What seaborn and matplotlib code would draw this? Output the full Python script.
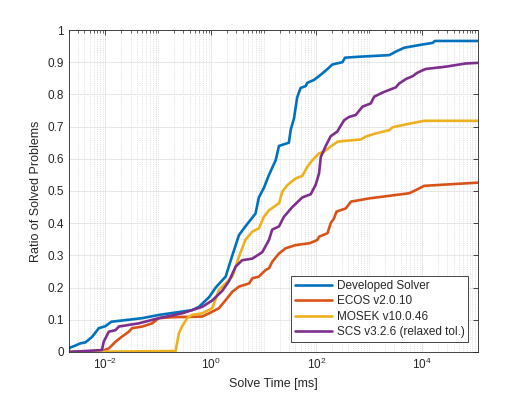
import numpy as np
import pandas as pd
import seaborn as sns
import matplotlib.pyplot as plt
from matplotlib.ticker import LogLocator, LogFormatterMathtext, NullFormatter

# solve times [ms] and ratio of solved problems
dev_x = [2.0e-3, 2.1e-3, 2.7e-3, 3.4e-3, 4.2e-3, 5.6e-3, 7.5e-3, 0.01, 0.013, 0.05, 0.103, 0.44, 0.59,
         0.92, 1.23, 1.9, 2.5, 3.4, 4.5, 7.0, 8.1, 10.1, 12.6, 16.9, 19.5, 30, 32.5, 37.6, 43, 50,
         62.6, 67, 90, 129, 162, 200, 310, 348, 645, 2400, 3200, 4600, 10200, 15900, 17600, 1.15e5]
dev_y = [0.005, 0.013, 0.02, 0.027, 0.03, 0.047, 0.074, 0.08, 0.094, 0.105, 0.115, 0.13, 0.14,
         0.17, 0.2, 0.234, 0.296, 0.363, 0.39, 0.43, 0.48, 0.51, 0.55, 0.596, 0.64, 0.65, 0.69, 0.726, 0.79, 0.82,
         0.826, 0.836, 0.845, 0.865, 0.879, 0.893, 0.90, 0.914, 0.917, 0.922, 0.933, 0.945, 0.955, 0.96, 0.966, 0.966]

ecos_x = [2.0e-3, 8.6e-3, 0.0116, 0.0156, 0.0207, 0.0278, 0.032, 0.05, 0.077, 0.103, 0.185, 0.68, 0.92,
          1.42, 1.9, 2.54, 3.4, 5.3, 6.1, 8.1, 10.9, 12.6, 14.5, 19.5, 26, 40.4, 75, 104, 112, 162, 186,
          215, 240, 360, 450, 1000, 5700, 7700, 11000, 1.15e5]
ecos_y = [0.0, 0.003, 0.011, 0.032, 0.048, 0.063, 0.074, 0.079, 0.089, 0.105, 0.108, 0.11, 0.12,
          0.136, 0.161, 0.187, 0.203, 0.213, 0.229, 0.234, 0.255, 0.26, 0.28, 0.306, 0.322, 0.332, 0.338, 0.348, 0.358, 0.369, 0.40,
          0.415, 0.436, 0.446, 0.467, 0.477, 0.493, 0.503, 0.516, 0.526]

mosek_x = [2.0e-3, 0.214, 0.247, 0.285, 0.355, 0.44, 0.68, 1.06, 1.42, 1.9, 2.54, 3.4, 4.5, 6.1, 8.1,
           10.1, 12.6, 19.5, 22.5, 27.9, 40.4, 54, 67, 84, 112, 139, 186, 250, 310, 695, 860, 1340,
           2400, 2770, 5000, 11000, 1.15e5]
mosek_y = [0.0, 0.003, 0.058, 0.08, 0.105, 0.115, 0.12, 0.136, 0.193, 0.213, 0.234, 0.296, 0.348, 0.374, 0.384,
           0.42, 0.44, 0.462, 0.498, 0.518, 0.539, 0.547, 0.575, 0.596, 0.617, 0.622, 0.638, 0.653, 0.655, 0.66, 0.669, 0.679,
           0.689, 0.698, 0.707, 0.718, 0.718]

scs_x = [2.0e-3, 8.6e-3, 9.3e-3, 0.0116, 0.0156, 0.018, 0.043, 0.103, 0.285, 0.44, 0.68, 1.06, 1.64, 2.2,
         2.94, 3.9, 6.1, 9.4, 12.6, 14.5, 19.5, 24.2, 34.8, 54, 78, 97, 112, 121, 150, 186, 250, 270,
         335, 415, 555, 745, 1070, 1240, 1660, 1930, 3200, 3700, 5000, 6700, 8100, 11700, 28000, 67000, 1.15e5]
scs_y = [0.0, 0.006, 0.032, 0.063, 0.068, 0.079, 0.089, 0.105, 0.12, 0.13, 0.14, 0.16, 0.19, 0.22,
         0.265, 0.285, 0.29, 0.31, 0.348, 0.38, 0.39, 0.42, 0.45, 0.48, 0.49, 0.52, 0.555, 0.606, 0.64, 0.67, 0.685, 0.695,
         0.72, 0.73, 0.736, 0.762, 0.772, 0.793, 0.803, 0.808, 0.822, 0.834, 0.848, 0.857, 0.867, 0.879, 0.886, 0.896, 0.898]

names = ["Developed Solver", "ECOS v2.0.10", "MOSEK v10.0.46", "SCS v3.2.6 (relaxed tol.)"]
colors = ["#0072BD", "#D95319", "#EDB120", "#7E2F8E"]

frames = []
for name, xs, ys in zip(names, [dev_x, ecos_x, mosek_x, scs_x], [dev_y, ecos_y, mosek_y, scs_y]):
    frames.append(pd.DataFrame({"time": xs, "ratio": ys, "solver": name}))
df = pd.concat(frames, ignore_index=True)

sns.set_style("white")
plt.rcParams['font.family'] = ['Liberation Sans', 'DejaVu Sans']

fig = plt.figure(figsize=(5.29, 3.97), dpi=100)
ax = fig.add_axes([0.1295, 0.1134, 0.774, 0.811])

sns.lineplot(data=df, x="time", y="ratio", hue="solver", hue_order=names,
             palette=dict(zip(names, colors)), estimator=None, sort=False,
             linewidth=1.9, ax=ax)

ax.set_xscale("log")
ax.set_xlim(2e-3, 1.15e5)
ax.set_ylim(0, 1)
ax.set_xticks([1e-2, 1, 1e2, 1e4])
ax.xaxis.set_major_formatter(LogFormatterMathtext())
ax.xaxis.set_minor_locator(LogLocator(base=10, subs=np.arange(1, 10), numticks=50))
ax.xaxis.set_minor_formatter(NullFormatter())
ax.set_yticks(np.arange(0, 1.01, 0.1))
ax.set_yticklabels(["0"] + ["%.1f" % v for v in np.arange(0.1, 0.95, 0.1)] + ["1"])

ax.grid(True, which="major", color="#e3e3e3", linewidth=0.6)
ax.grid(True, which="minor", axis="x", color="#cccccc", linestyle=":", linewidth=0.5)
ax.set_axisbelow(True)

for s in ax.spines.values():
    s.set_color("#262626")
    s.set_linewidth(0.6)
ax.tick_params(which="both", direction="in", top=True, right=True, colors="#262626", labelsize=8.5)
ax.tick_params(which="major", length=3.5, width=0.6)
ax.tick_params(which="minor", length=2, width=0.5)

ax.set_xlabel("Solve Time [ms]", fontsize=9, color="#262626")
ax.set_ylabel("Ratio of Solved Problems", fontsize=9, color="#262626")

leg = ax.legend(loc="lower right", fontsize=8.5, frameon=True, fancybox=False,
                edgecolor="#262626", framealpha=1, handlelength=3.2, handletextpad=0.35,
                borderaxespad=0.85, labelspacing=0.3, borderpad=0.3)
leg.get_frame().set_linewidth(0.6)

fig.savefig("out.png", dpi=100)
